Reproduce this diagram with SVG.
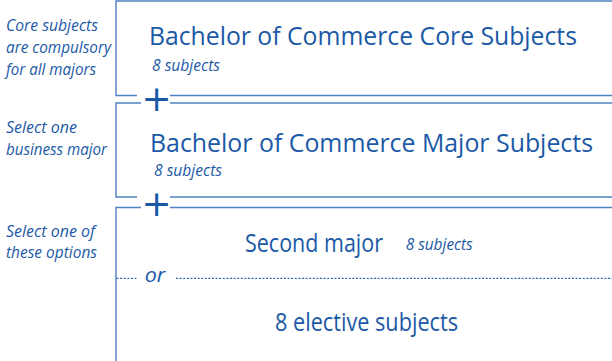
<svg xmlns="http://www.w3.org/2000/svg" width="612" height="361" viewBox="0 0 612 361">
<style>
.box{fill:none;stroke:#4f80c2;stroke-width:1.4}
.dash{fill:none;stroke:#2f68b4;stroke-width:1.2;stroke-dasharray:2 1.6}
.title{font-family:"Open Sans","Noto Sans",sans-serif;font-size:25px;fill:#1b59a6}
.sub{font-family:"Open Sans","Noto Sans",sans-serif;font-style:italic;font-size:16px;fill:#1b59a6}
.lab{font-family:"Open Sans","Noto Sans",sans-serif;font-style:italic;font-size:17px;fill:#1b59a6}
.or{font-family:"Open Sans","Noto Sans",sans-serif;font-style:italic;font-size:20px;fill:#1b59a6}
.plus{font-family:"DejaVu Sans",sans-serif;font-size:36px;fill:#1b59a6;text-anchor:middle}
</style>
<rect width="612" height="361" fill="#ffffff"/>
<g id="labels">
<text class="lab" x="6" y="30.5" textLength="92" lengthAdjust="spacingAndGlyphs">Core subjects</text>
<text class="lab" x="6" y="52.5" textLength="105" lengthAdjust="spacingAndGlyphs">are compulsory</text>
<text class="lab" x="6" y="74.5" textLength="90" lengthAdjust="spacingAndGlyphs">for all majors</text>
<text class="lab" x="6" y="132.7" textLength="71" lengthAdjust="spacingAndGlyphs">Select one</text>
<text class="lab" x="6" y="155" textLength="101" lengthAdjust="spacingAndGlyphs">business major</text>
<text class="lab" x="6" y="236.7" textLength="89" lengthAdjust="spacingAndGlyphs">Select one of</text>
<text class="lab" x="6" y="258.3" textLength="91" lengthAdjust="spacingAndGlyphs">these options</text>
</g>
<g id="node-core">
<path class="box" d="M612,1 H116 V95.5 H137 M170,95.5 H612"/>
<text class="title" x="149" y="45" textLength="428" lengthAdjust="spacingAndGlyphs">Bachelor of Commerce Core Subjects</text>
<text class="sub" x="152" y="70.5" textLength="68" lengthAdjust="spacingAndGlyphs">8 subjects</text>
</g>
<g id="node-major">
<path class="box" d="M612,103 H170 M141,103 H116 V197 H137 M170,197 H612"/>
<text class="title" x="150" y="152.3" textLength="443" lengthAdjust="spacingAndGlyphs">Bachelor of Commerce Major Subjects</text>
<text class="sub" x="154" y="175.5" textLength="68" lengthAdjust="spacingAndGlyphs">8 subjects</text>
</g>
<g id="node-options">
<path class="box" d="M612,207.5 H170 M141,207.5 H116 V361"/>
<text class="title" x="245" y="252.3" textLength="138" lengthAdjust="spacingAndGlyphs">Second major</text>
<text class="sub" x="405.7" y="250" font-size="15" textLength="67" lengthAdjust="spacingAndGlyphs">8 subjects</text>
<path class="dash" d="M116.5,278.3 H138 M176,278.3 H612"/>
<text class="or" x="144.7" y="282.3" textLength="20.6" lengthAdjust="spacingAndGlyphs">or</text>
<text class="title" x="275" y="331" textLength="183" lengthAdjust="spacingAndGlyphs">8 elective subjects</text>
</g>
<g id="connectors">
<text class="plus" x="156.5" y="111.4">+</text>
<text class="plus" x="156.5" y="215.9">+</text>
</g>
</svg>
